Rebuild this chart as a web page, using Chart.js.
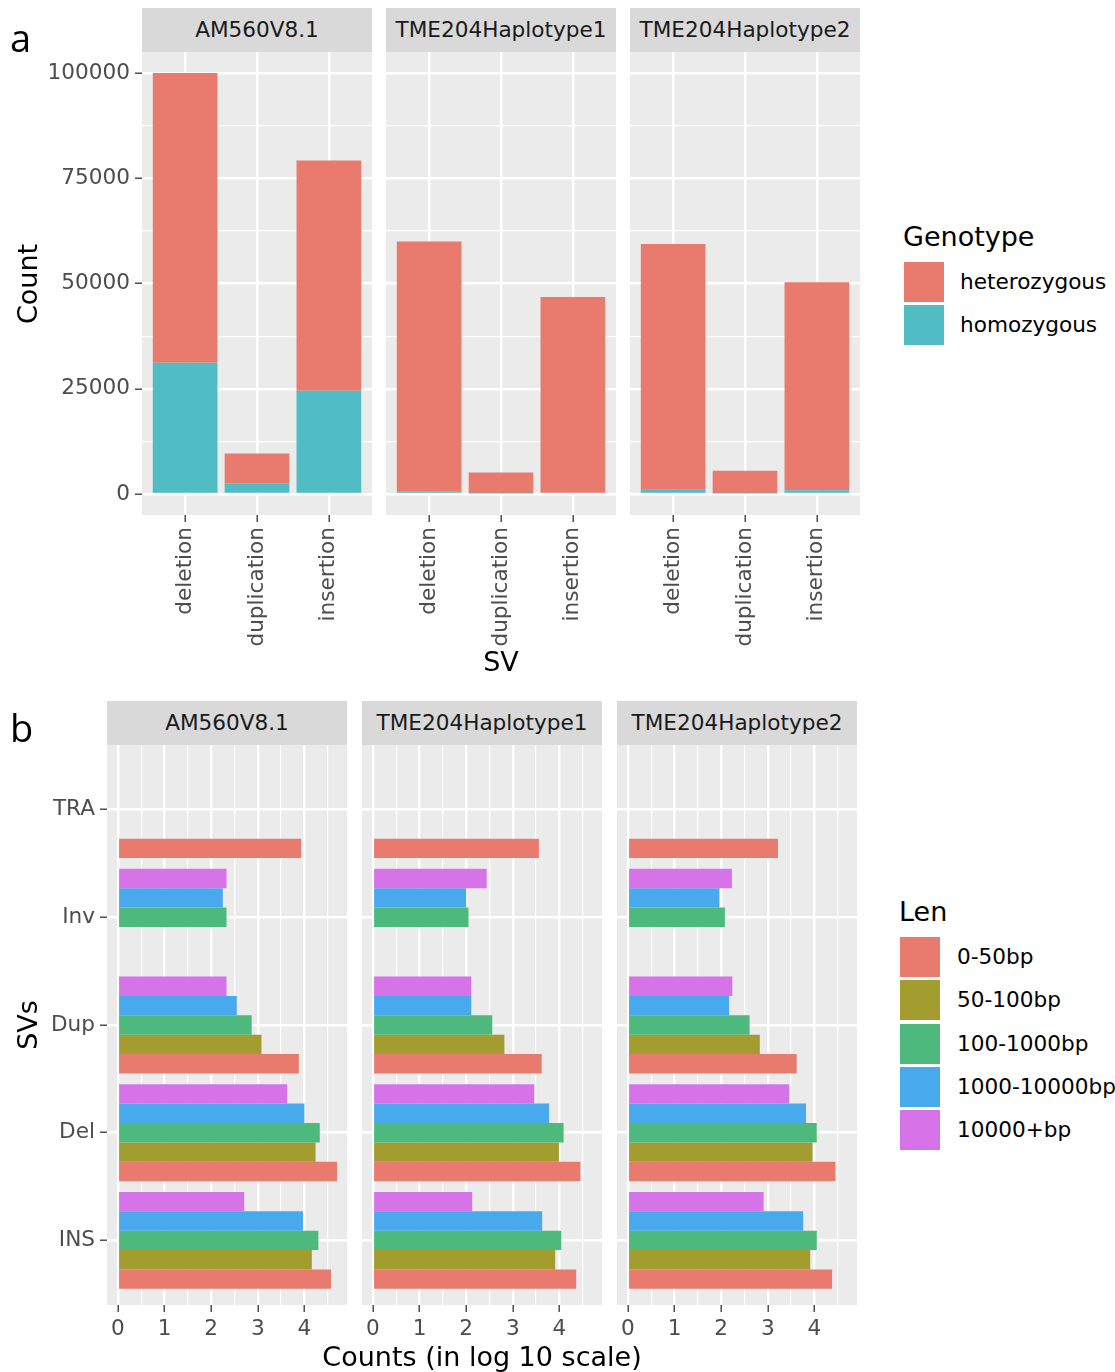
<!DOCTYPE html>
<html lang="en">
<head>
<meta charset="UTF-8">
<title>SV counts by genotype and by length</title>
<script src="https://cdn.jsdelivr.net/npm/chart.js"></script>
<style>
    body { margin: 0; background: #fff; font-family: "DejaVu Sans", sans-serif; }
    #fig { position: relative; width: 1115px; height: 1372px; overflow: hidden; }
    .box { position: absolute; }
    .strip { position: absolute; height: 44px; line-height: 44px; background: #d9d9d9; color: #1a1a1a; font-size: 21.6px; text-align: center; }
    .title { position: absolute; color: #000; font-size: 27px; white-space: nowrap; transform: translate(-50%, -50%); }
    .rot { transform: translate(-50%, -50%) rotate(-90deg); }
    .tag { position: absolute; font-family: "Open Sans", sans-serif; font-size: 38px; line-height: 38px; color: #000; }
    .legtitle { position: absolute; color: #000; font-size: 27px; line-height: 30px; white-space: nowrap; }
    .key { position: absolute; width: 40px; height: 40px; }
    .keylab { position: absolute; color: #000; font-size: 21.6px; line-height: 40px; white-space: nowrap; }
</style>
</head>
<body>
<div id="fig"></div>
<script>
    // ---- panel a : counts by genotype ----
    const facets = ['AM560V8.1', 'TME204Haplotype1', 'TME204Haplotype2'];
    const svTypes = ['deletion', 'duplication', 'insertion'];
    const genotypes = ['heterozygous', 'homozygous'];
    const homAM = [31200, 2400, 24500];
    const hetAM = [68800, 7200, 54700];
    const homH1 = [500, 150, 300];
    const hetH1 = [59500, 4950, 46500];
    const homH2 = [1000, 150, 900];
    const hetH2 = [58400, 5350, 49400];

    // ---- panel b : log10 counts by length class ----
    const svCodes = ['INS', 'Del', 'Dup', 'Inv', 'TRA'];   // bottom to top
    const lenBins = ['0-50bp', '50-100bp', '100-1000bp', '1000-10000bp', '10000+bp'];
    // one row per length bin, columns follow svCodes
    const lenAM = [
        [4.57, 4.70, 3.88, null, 3.93],
        [4.16, 4.24, 3.08, null, null],
        [4.30, 4.33, 2.87, 2.33, null],
        [3.97, 4.00, 2.55, 2.25, null],
        [2.71, 3.63, 2.33, 2.33, null]
    ];
    const lenH1 = [
        [4.36, 4.45, 3.62, null, 3.56],
        [3.91, 3.99, 2.82, null, null],
        [4.04, 4.09, 2.56, 2.05, null],
        [3.63, 3.78, 2.11, 2.00, null],
        [2.13, 3.46, 2.11, 2.44, null]
    ];
    const lenH2 = [
        [4.38, 4.45, 3.62, null, 3.22],
        [3.91, 3.96, 2.83, null, null],
        [4.05, 4.05, 2.61, 2.08, null],
        [3.76, 3.82, 2.17, 1.96, null],
        [2.91, 3.46, 2.24, 2.23, null]
    ];

    const hetColor = '#E87A6E';
    const homColor = '#50BCC4';
    const lenColors = ['#E87A6E', '#A39D30', '#4EB97D', '#48AAEC', '#D673E8'];

    Chart.defaults.font.family = '"DejaVu Sans", sans-serif';
    Chart.defaults.animation = false;

    const fig = document.getElementById('fig');
    function add(cls, css, text) {
        const d = document.createElement('div');
        d.className = cls;
        Object.assign(d.style, css);
        if (text !== undefined) d.textContent = text;
        fig.appendChild(d);
        return d;
    }

    const panelBg = {
        id: 'panelBg',
        beforeDraw(chart) {
            const a = chart.chartArea, c = chart.ctx;
            c.save();
            c.fillStyle = '#ebebeb';
            c.fillRect(a.left, a.top, a.right - a.left, a.bottom - a.top);
            c.restore();
        }
    };

    const tickFont = { size: 21.6 };
    function gridOpts(isMajor, showTicks) {
        return {
            offset: false,
            color: '#ffffff',
            lineWidth: c => (c.tick && isMajor(c.tick.value)) ? 2.4 : 1.2,
            drawTicks: showTicks,
            tickLength: 7,
            tickWidth: 1.3,
            tickColor: c => (c.tick && isMajor(c.tick.value)) ? '#333333' : 'rgba(0,0,0,0)'
        };
    }

    function makeCanvas(left, top, w, h) {
        const box = add('box', { left: left + 'px', top: top + 'px', width: w + 'px', height: h + 'px' });
        const cv = document.createElement('canvas');
        box.appendChild(cv);
        return cv;
    }

    // panel a facets
    const aTop = 52, aH = 463, aXH = 140, aW = 230;
    const aLeft = [142, 386, 630];
    const aHom = [homAM, homH1, homH2];
    const aHet = [hetAM, hetH1, hetH2];

    facets.forEach((name, f) => {
        const first = f === 0;
        const yW = first ? aLeft[0] : 0;
        add('strip', { left: aLeft[f] + 'px', top: (aTop - 44) + 'px', width: aW + 'px' }, name);
        const cv = makeCanvas(aLeft[f] - yW, aTop - 20, yW + aW + 10, 20 + aH + aXH);
        new Chart(cv, {
            type: 'bar',
            data: {
                datasets: [
                    { label: genotypes[1], data: aHom[f].map((v, i) => ({ x: i, y: v })), backgroundColor: homColor },
                    { label: genotypes[0], data: aHet[f].map((v, i) => ({ x: i, y: v })), backgroundColor: hetColor }
                ]
            },
            options: {
                responsive: true,
                maintainAspectRatio: false,
                layout: { padding: { top: 20, right: 10, left: 0, bottom: 0 } },
                datasets: { bar: { categoryPercentage: 0.9, barPercentage: 1, borderWidth: 0 } },
                plugins: { legend: { display: false }, tooltip: { enabled: false } },
                scales: {
                    x: {
                        type: 'linear', stacked: true, offset: false, min: -0.6, max: 2.6,
                        afterBuildTicks: s => { s.ticks = svTypes.map((_, i) => ({ value: i })); },
                        afterFit: s => { s.height = aXH; },
                        ticks: { autoSkip: false, minRotation: 90, maxRotation: 90, padding: 5, color: '#4d4d4d', font: tickFont, callback: v => svTypes[v] },
                        grid: gridOpts(() => true, true),
                        border: { display: false }
                    },
                    y: {
                        type: 'linear', stacked: true, min: -5000, max: 105000,
                        afterBuildTicks: s => { s.ticks = [0, 1, 2, 3, 4, 5, 6, 7, 8].map(k => ({ value: k * 12500 })); },
                        afterFit: s => { s.width = yW; },
                        ticks: { display: first, padding: 5, color: '#4d4d4d', font: tickFont, callback: v => v % 25000 ? '' : String(v) },
                        grid: gridOpts(v => v % 25000 === 0, first),
                        border: { display: false }
                    }
                }
            },
            plugins: [panelBg]
        });
    });

    // panel b facets
    const bTop = 745, bH = 560, bXH = 50, bW = 240;
    const bLeft = [107, 362, 617];
    const bRows = [lenAM, lenH1, lenH2];

    facets.forEach((name, f) => {
        const first = f === 0;
        const yW = first ? bLeft[0] : 0;
        add('strip', { left: bLeft[f] + 'px', top: (bTop - 44) + 'px', width: bW + 'px' }, name);
        const cv = makeCanvas(bLeft[f] - yW, bTop - 20, yW + bW + 10, 20 + bH + bXH);
        // top bar of each group is the largest length class
        const order = [4, 3, 2, 1, 0];
        new Chart(cv, {
            type: 'bar',
            data: {
                datasets: order.map(j => ({
                    label: lenBins[j],
                    data: bRows[f][j].map((v, i) => ({ x: v, y: i })),
                    backgroundColor: lenColors[j]
                }))
            },
            options: {
                indexAxis: 'y',
                responsive: true,
                maintainAspectRatio: false,
                layout: { padding: { top: 20, right: 10, left: 0, bottom: 0 } },
                datasets: { bar: { categoryPercentage: 0.9, barPercentage: 1, borderWidth: 0 } },
                plugins: { legend: { display: false }, tooltip: { enabled: false } },
                scales: {
                    x: {
                        type: 'linear', min: -0.234, max: 4.914,
                        afterBuildTicks: s => { s.ticks = [0, 1, 2, 3, 4, 5, 6, 7, 8, 9].map(k => ({ value: k / 2 })); },
                        afterFit: s => { s.height = bXH; },
                        ticks: { autoSkip: false, maxRotation: 0, padding: 4, color: '#4d4d4d', font: tickFont, callback: v => Number.isInteger(v) ? String(v) : '' },
                        grid: gridOpts(v => Number.isInteger(v), true),
                        border: { display: false }
                    },
                    y: {
                        type: 'linear', offset: false, min: -0.6, max: 4.6,
                        afterBuildTicks: s => { s.ticks = svCodes.map((_, i) => ({ value: i })); },
                        afterFit: s => { s.width = yW; },
                        ticks: { display: first, padding: 5, color: '#4d4d4d', font: tickFont, callback: v => svCodes[v] },
                        grid: gridOpts(() => true, first),
                        border: { display: false }
                    }
                }
            },
            plugins: [panelBg]
        });
    });

    // axis titles and panel tags
    add('title rot', { left: '27px', top: (aTop + aH / 2) + 'px' }, 'Count');
    add('title', { left: '501px', top: '661px' }, 'SV');
    add('title rot', { left: '27px', top: (bTop + bH / 2) + 'px' }, 'SVs');
    add('title', { left: '482px', top: '1356px' }, 'Counts (in log 10 scale)');
    add('tag', { left: '10px', top: '18px' }, 'a');
    add('tag', { left: '10px', top: '708px' }, 'b');

    // legends
    add('legtitle', { left: '903px', top: '222px' }, 'Genotype');
    genotypes.forEach((g, i) => {
        const top = 262 + i * 43;
        add('key', { left: '904px', top: top + 'px', background: i === 0 ? hetColor : homColor });
        add('keylab', { left: '960px', top: top + 'px' }, g);
    });
    add('legtitle', { left: '899px', top: '897px' }, 'Len');
    lenBins.forEach((b, i) => {
        const top = 937 + i * 43.3;
        add('key', { left: '900px', top: top + 'px', background: lenColors[i] });
        add('keylab', { left: '957px', top: top + 'px' }, b);
    });
</script>
</body>
</html>
